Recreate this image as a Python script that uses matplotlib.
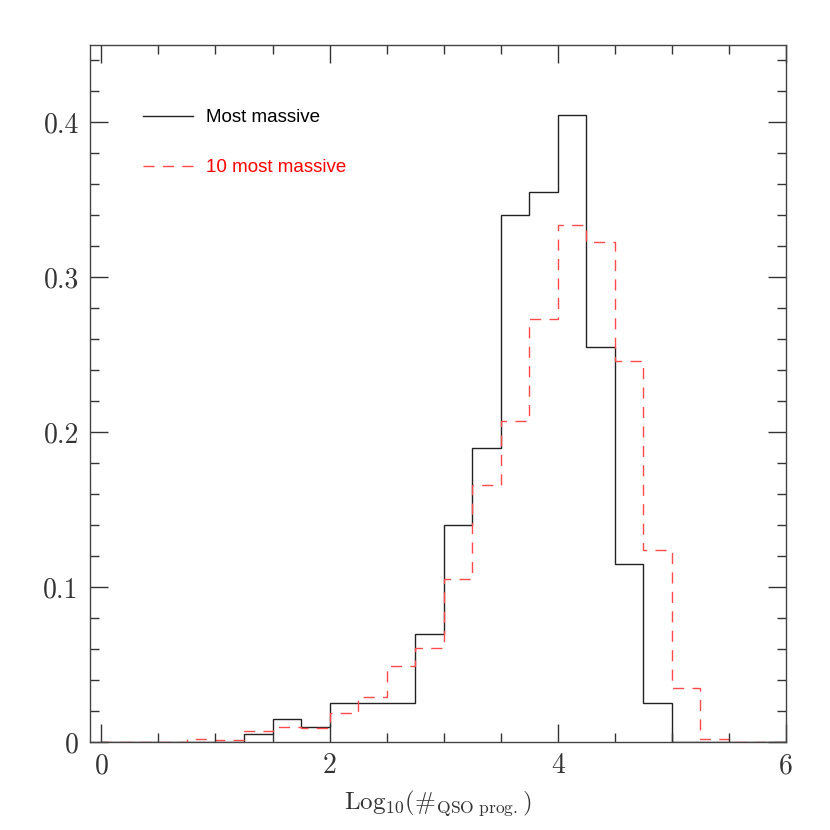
import matplotlib
matplotlib.use("Agg")
from matplotlib import pyplot as plt
from matplotlib.ticker import MultipleLocator, FuncFormatter
from matplotlib.lines import Line2D

# bin edges (log10 of number of QSO progenitors)
bin_edges = [0.0, 0.25, 0.5, 0.75, 1.0, 1.25, 1.5, 1.75, 2.0, 2.25, 2.5, 2.75,
             3.0, 3.25, 3.5, 3.75, 4.0, 4.25, 4.5, 4.75, 5.0, 5.25, 5.5, 5.75, 6.0]

most_massive = [0, 0, 0, 0, 0, 0.005, 0.015, 0.010, 0.025, 0.025, 0.025, 0.070,
                0.140, 0.190, 0.340, 0.355, 0.405, 0.255, 0.115, 0.025, 0, 0, 0, 0]

ten_most_massive = [0, 0, 0, 0.002, 0.001, 0.007, 0.010, 0.009, 0.019, 0.029, 0.049, 0.061,
                    0.105, 0.166, 0.207, 0.273, 0.334, 0.323, 0.246, 0.124, 0.035, 0.002, 0, 0]

labels = ["Most massive", "10 most massive"]

plt.rcParams["font.family"] = "serif"
plt.rcParams["font.serif"] = ["cmr10", "DejaVu Serif"]
plt.rcParams["mathtext.fontset"] = "cm"
plt.rcParams["axes.formatter.use_mathtext"] = True

red_dash = (0, (8, 6))
red_col = "#ff4a4a"

fig = plt.figure(figsize=(8.3, 8.3), dpi=100)
ax = fig.add_axes([0.1084, 0.106, 0.8386, 0.8398])

ax.stairs(most_massive, bin_edges, color="#222222", lw=1.0)
ax.stairs(ten_most_massive, bin_edges, color=red_col, lw=1.0, linestyle=red_dash)

ax.set_xlim(-0.1, 6.0)
ax.set_ylim(0, 0.45)

ax.xaxis.set_major_locator(MultipleLocator(2))
ax.xaxis.set_minor_locator(MultipleLocator(0.5))
ax.yaxis.set_major_locator(MultipleLocator(0.1))
ax.yaxis.set_minor_locator(MultipleLocator(0.02))
ax.yaxis.set_major_formatter(FuncFormatter(lambda v, p: "%g" % round(v, 3)))
ax.xaxis.set_major_formatter(FuncFormatter(lambda v, p: "%g" % v))

ax.tick_params(which="both", direction="in", top=True, right=True, colors="#333333",
               labelcolor="#333333", labelsize=20)
ax.tick_params(which="major", length=13, width=1, pad=8)
ax.tick_params(which="minor", length=6.5, width=1)
for s in ax.spines.values():
    s.set_color("#444444")
    s.set_linewidth(1)

ax.set_xlabel(r"Log$_{10}$(#$_{\rm QSO\ prog.}$)", fontsize=18, color="#333333", labelpad=6)

handles = [Line2D([], [], color="#222222", lw=1.0),
           Line2D([], [], color=red_col, lw=1.0, linestyle=red_dash)]
leg = ax.legend(handles, labels, loc="upper left", bbox_to_anchor=(0.052, 0.932),
                frameon=False, handlelength=2.67, handletextpad=0.7, labelspacing=1.75,
                labelcolor=["black", "red"],
                prop={"family": "Liberation Sans", "size": 13.5})

fig.savefig("out.png", dpi=100)
